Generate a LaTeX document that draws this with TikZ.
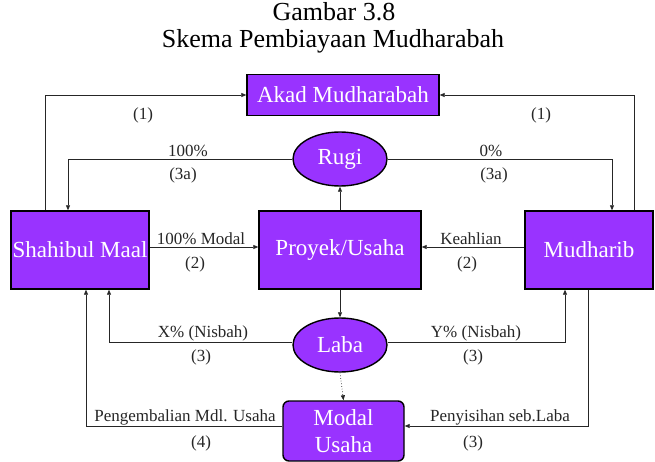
\documentclass[tikz,border=0pt]{standalone}
\usepackage{fontspec}
\setmainfont{Liberation Serif}
\usetikzlibrary{shapes.geometric,arrows.meta}
\definecolor{boxfill}{RGB}{153,51,255}
\begin{document}
\begin{tikzpicture}[x=1pt,y=-1pt,
  font=\fontsize{17}{19}\selectfont,
  flow/.style={line width=0.7pt,draw=black!85,-{Triangle[length=5pt,width=4pt]}},
  boxnode/.style={draw=black,line width=1.4pt,fill=boxfill,text=white,
    inner sep=0pt,font=\fontsize{23}{27}\selectfont},
  ovalnode/.style={boxnode,ellipse,minimum width=94pt,minimum height=54pt},
  lbl/.style={inner sep=0pt,text=black!85},
  headline/.style={inner sep=0pt,font=\fontsize{26}{30}\selectfont}]
\useasboundingbox (0,0) rectangle (655,462);

% heading
\node[headline] (t1) at (334,12) {Gambar 3.8};
\node[headline] (t2) at (333,41) {Skema Pembiayaan Mudharabah};

% parties, contract and outcomes
\node[boxnode,minimum width=192pt,minimum height=41pt] (akad) at (343,95) {Akad Mudharabah};
\node[boxnode,minimum width=138pt,minimum height=78pt] (shahib) at (80,250) {Shahibul Maal};
\node[boxnode,minimum width=162pt,minimum height=78pt] (proyek) at (340,250) {Proyek/Usaha};
\node[boxnode,minimum width=128pt,minimum height=78pt] (mudh) at (589,250) {Mudharib};
\node[ovalnode] (rugi) at (340,159) {Rugi};
\node[ovalnode] (laba) at (340,345) {Laba};
\node[boxnode,rounded corners=6pt,minimum width=121pt,minimum height=60pt,align=center]
  (modal) at (343.5,431) {Modal\\Usaha};

% (1) contract
\draw[flow] ([xshift=-35pt]shahib.north) |- (akad.west);
\draw[flow] ([xshift=45pt]mudh.north) |- (akad.east);
% (3a) loss sharing
\draw[flow] (rugi.west) -| ([xshift=-12pt]shahib.north);
\draw[flow] (rugi.east) -| ([xshift=23pt]mudh.north);
% (2) capital and expertise
\draw[flow] ([yshift=3pt]shahib.east) -- ([yshift=3pt]proyek.west);
\draw[flow] ([yshift=3pt]mudh.west) -- ([yshift=3pt]proyek.east);
% project outcome
\draw[flow] (proyek.north) -- (rugi.south);
\draw[flow] (proyek.south) -- (laba.north);
% (3) profit sharing
\draw[flow] ([yshift=3pt]laba.west) -| ([xshift=29pt]shahib.south);
\draw[flow] ([yshift=3pt]laba.east) -| ([xshift=-24pt]mudh.south);
\draw[flow,dotted] (laba.south) -- (modal.north);
% (4) return of capital, (3) set-aside of profit
\draw[flow] ([yshift=5pt]modal.west) -| ([xshift=6pt]shahib.south);
\draw[flow] ([xshift=-1pt]mudh.south) |- ([yshift=5pt]modal.east);

% labels
\node[lbl] (l1a) at (143,115) {(1)};
\node[lbl] (l1b) at (541,115) {(1)};
\node[lbl] (l3a1) at (188,151) {100\%};
\node[lbl] (l3a2) at (183,175) {(3a)};
\node[lbl] (l3a3) at (491,151) {0\%};
\node[lbl] (l3a4) at (494,175) {(3a)};
\node[lbl] (l2a) at (201,239) {100\% Modal};
\node[lbl] (l2b) at (195,264) {(2)};
\node[lbl] (l2c) at (471,239) {Keahlian};
\node[lbl] (l2d) at (467,264) {(2)};
\node[lbl] (l3a) at (203,333) {X\% (Nisbah)};
\node[lbl] (l3b) at (201,357) {(3)};
\node[lbl] (l3c) at (476,333) {Y\% (Nisbah)};
\node[lbl] (l3d) at (473,357) {(3)};
\node[lbl] (l4a) at (185,417) {Pengembalian Mdl. Usaha};
\node[lbl] (l4b) at (201,443) {(4)};
\node[lbl] (l3e) at (500,417) {Penyisihan seb.Laba};
\node[lbl] (l3f) at (473,443) {(3)};
\end{tikzpicture}
\end{document}
